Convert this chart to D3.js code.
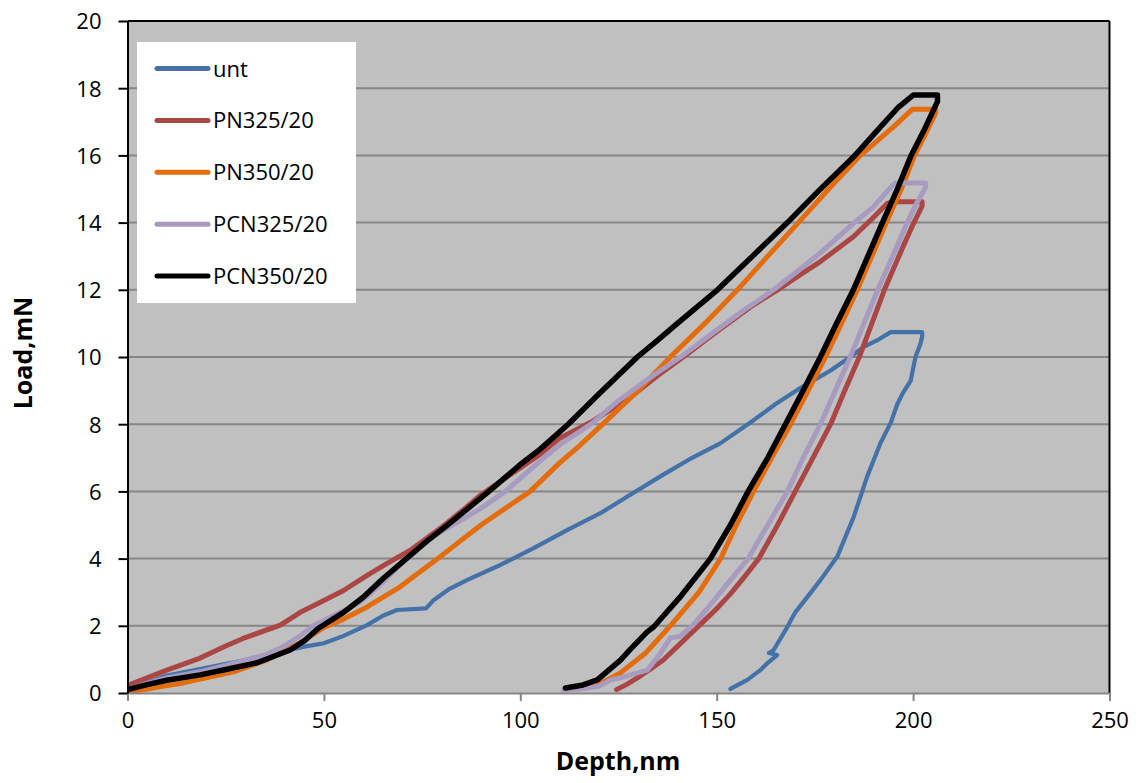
<!DOCTYPE html>
<html>
<head>
<meta charset="utf-8">
<script src="https://cdn.jsdelivr.net/npm/d3@7"></script>
<style>
  html, body { margin: 0; padding: 0; background: #ffffff; }
  svg { display: block; }
  text { font-family: "Open Sans", "Noto Sans", sans-serif; fill: #000; }
</style>
</head>
<body>
<svg id="chart" width="1139" height="783"></svg>
<script>
// ---- data: [depth (nm), load (mN)] — loading, hold, unloading ----
const seriesNames = ["unt", "PN325/20", "PN350/20", "PCN325/20", "PCN350/20"];
const seriesColors = ["#4472A8", "#AA4643", "#E46C0A", "#A89BC0", "#000000"];

const unt = [
  [0,0.1],[5,0.3],[10,0.52],[20,0.75],[30,0.98],[40,1.25],[45,1.38],[50,1.48],[55,1.7],[61,2.02],
  [65,2.3],[68.6,2.47],[76,2.52],[78,2.77],[82,3.1],[86.4,3.36],[94.9,3.81],[103.4,4.31],[111.9,4.85],
  [120.4,5.35],[128,5.9],[136.4,6.5],[143,6.95],[150.9,7.43],[159.4,8.12],[165,8.6],[170.5,9.02],
  [179,9.6],[184,10.0],[187.4,10.3],[190.9,10.5],[194.3,10.74],[202.3,10.74],
  [202.3,10.6],[201.9,10.4],[200.6,10.0],[199.4,9.3],[197.5,8.95],[196,8.6],[194.3,8.04],[191.7,7.44],
  [188.3,6.44],[184.9,5.25],[180.7,4.06],[176.4,3.36],[173.1,2.86],[170,2.4],[168,1.97],[164.5,1.28],
  [163.3,1.19],[165.4,1.13],[163,0.9],[161.1,0.68],[157.8,0.39],[153.5,0.12]
];
const pn325 = [
  [0,0.22],[5,0.45],[10,0.68],[18.5,1.04],[25,1.4],[30,1.65],[38.9,2.02],[44,2.4],[50,2.75],[55,3.05],
  [61,3.5],[66,3.85],[72,4.25],[79.6,4.9],[86,5.5],[90,5.9],[95,6.3],[100,6.7],[105,7.1],[110,7.58],
  [117.8,8.05],[128,8.8],[135,9.45],[141.5,10.0],[150,10.75],[158.6,11.49],[165.5,12.0],[171.3,12.45],
  [176.4,12.84],[184.8,13.58],[189,14.05],[193.4,14.57],[195,14.62],[202.3,14.62],
  [202.3,14.5],[200,13.95],[197.5,13.3],[192.7,12.0],[189.5,11.0],[186.3,10.0],[182.6,9.0],[179,8.0],
  [174.5,7.0],[170,6.0],[165.5,5.0],[160.7,4.0],[157,3.45],[153.5,2.95],[149.5,2.45],[145.1,1.96],
  [141,1.5],[136.4,0.98],[133,0.7],[129.8,0.45],[127,0.25],[124.5,0.1]
];
const pn350 = [
  [0,0.02],[5,0.12],[10,0.22],[14.2,0.3],[20,0.45],[27,0.63],[35.4,0.98],[38.9,1.19],[44,1.5],
  [50,1.95],[55,2.2],[61,2.56],[69.4,3.16],[79,4.0],[85,4.55],[90,5.0],[95,5.4],[102.5,6.0],
  [110,6.85],[115,7.35],[121,8.0],[130,9.0],[138.2,10.0],[147,11.0],[155.3,12.0],[163,13.0],
  [170.8,14.0],[178.5,15.0],[186.6,16.0],[195,16.85],[199.8,17.37],[205.7,17.37],
  [205.7,17.25],[203,16.6],[200.4,16.0],[197,15.0],[193.2,14.0],[189.5,13.0],[185.8,12.0],[181.8,11.0],
  [177.7,10.0],[173.3,9.0],[168.8,8.0],[164,7.0],[159.4,6.0],[155,5.0],[151,4.0],[145.5,3.0],
  [138.2,2.0],[132,1.2],[125.5,0.6],[121,0.32],[118,0.18]
];
const pcn325 = [
  [0,0.1],[5,0.28],[10,0.45],[18.5,0.63],[25,0.82],[30,0.98],[35.4,1.15],[40,1.4],[44,1.7],[47.3,2.0],
  [52.4,2.3],[59.2,2.7],[65,3.3],[71,4.0],[77,4.6],[85,5.15],[90,5.5],[96.2,6.0],[105,6.9],[110.2,7.4],
  [118,8.0],[125,8.7],[132,9.3],[140.8,10.0],[150,10.8],[157,11.4],[164.5,12.0],[170,12.5],
  [176.4,13.1],[184.8,13.98],[189.9,14.47],[194.7,15.1],[195.5,15.18],[203.2,15.18],
  [203.2,15.05],[201,14.6],[198.5,14.0],[194.8,13.0],[191,12.0],[187.5,11.0],[184,10.0],[180.2,9.0],
  [176.4,8.0],[172,7.0],[168,6.0],[163,5.0],[158,4.0],[154.5,3.5],[151,3.0],[147.5,2.5],[143.8,2.0],
  [140.5,1.68],[138.2,1.64],[135.5,1.15],[132.3,0.68],[125.5,0.45],[123,0.39],[120,0.2],[115,0.12],[111,0.09]
];
const pcn350 = [
  [0,0.1],[5,0.25],[10,0.38],[18.5,0.54],[25,0.7],[33,0.9],[41.4,1.28],[45,1.55],[48.5,1.92],[55,2.4],
  [60,2.85],[65,3.4],[71,4.0],[76,4.5],[82,5.05],[92,6.0],[100,6.8],[105,7.25],[112.2,8.0],[120,8.9],
  [129.8,10.0],[135,10.5],[140,11.0],[150.2,12.0],[160,13.1],[168,14.0],[176,14.95],[184.8,15.95],
  [191.7,16.85],[196.3,17.44],[200.1,17.8],[206.2,17.8],
  [206.2,17.6],[203,16.8],[199.5,16.0],[196,15.0],[192.2,14.0],[188.5,13.0],[184.8,12.0],[180.5,11.0],
  [176.4,10.0],[172,9.0],[167.5,8.0],[163,7.0],[158,6.0],[153.5,5.0],[148.4,4.0],[141,2.9],[134,1.97],
  [132.3,1.82],[128,1.3],[125.5,0.98],[119.6,0.39],[116,0.24],[111.5,0.15]
];
const seriesData = [unt, pn325, pn350, pcn325, pcn350];

const xTicks = [0, 50, 100, 150, 200, 250];
const yTicks = [0, 2, 4, 6, 8, 10, 12, 14, 16, 18, 20];

// ---- layout ----
const plot = { left: 127.5, right: 1109.5, top: 21, bottom: 693 };
const svg = d3.select("#chart");

const x = d3.scaleLinear().domain([0, 250]).range([plot.left, plot.right]);
const y = d3.scaleLinear().domain([0, 20]).range([plot.bottom, plot.top]);

// plot background
svg.append("rect")
  .attr("x", plot.left).attr("y", plot.top)
  .attr("width", plot.right - plot.left).attr("height", plot.bottom - plot.top)
  .attr("fill", "#C0C0C0");

// gridlines
svg.append("g")
  .selectAll("line")
  .data(yTicks.filter(t => t > 0 && t < 20))
  .join("line")
  .attr("x1", plot.left).attr("x2", plot.right)
  .attr("y1", d => y(d)).attr("y2", d => y(d))
  .attr("stroke", "#868686").attr("stroke-width", 2);

// clip
svg.append("defs").append("clipPath").attr("id", "clip")
  .append("rect")
  .attr("x", plot.left).attr("y", plot.top - 4)
  .attr("width", plot.right - plot.left).attr("height", plot.bottom - plot.top + 4);

const line = d3.line().x(d => x(d[0])).y(d => y(d[1]));
const widths = [4.2, 5, 5, 5, 5.5];

svg.append("g").attr("clip-path", "url(#clip)")
  .selectAll("path")
  .data(seriesData)
  .join("path")
  .attr("d", d => line(d))
  .attr("fill", "none")
  .attr("stroke", (d, i) => seriesColors[i])
  .attr("stroke-width", (d, i) => widths[i])
  .attr("stroke-linejoin", "round")
  .attr("stroke-linecap", "round");

// borders: top, right black
svg.append("line").attr("x1", plot.left).attr("x2", plot.right)
  .attr("y1", plot.top).attr("y2", plot.top).attr("stroke", "#000").attr("stroke-width", 2);
svg.append("line").attr("x1", plot.right).attr("x2", plot.right)
  .attr("y1", plot.top).attr("y2", plot.bottom).attr("stroke", "#000").attr("stroke-width", 2);

// x axis (gray)
const xAxis = d3.axisBottom(x).tickValues(xTicks).tickSize(8).tickSizeOuter(0).tickFormat(d3.format("d"));
const gx = svg.append("g").attr("transform", `translate(0,${plot.bottom})`).call(xAxis);
gx.select(".domain").attr("stroke", "#868686").attr("stroke-width", 2);
gx.selectAll(".tick line").attr("stroke", "#868686").attr("stroke-width", 2);
gx.selectAll(".tick text")
  .attr("y", 35).attr("dy", 0)
  .style("font-family", '"Open Sans", sans-serif')
  .style("font-size", "22px").attr("fill", "#000");

// y axis (black)
const yAxis = d3.axisLeft(y).tickValues(yTicks).tickSize(9).tickSizeOuter(0).tickFormat(d3.format("d"));
const gy = svg.append("g").attr("transform", `translate(${plot.left},0)`).call(yAxis);
gy.select(".domain").attr("stroke", "#000").attr("stroke-width", 2);
gy.selectAll(".tick line").attr("stroke", "#000").attr("stroke-width", 2);
gy.selectAll(".tick text")
  .attr("x", -26).attr("dy", "0.36em")
  .style("font-family", '"Open Sans", sans-serif')
  .style("font-size", "22px").attr("fill", "#000");

// axis titles
svg.append("text")
  .attr("x", 618).attr("y", 770)
  .attr("text-anchor", "middle")
  .style("font-size", "25px").style("font-weight", "bold")
  .text("Depth,nm");
svg.append("text")
  .attr("transform", "translate(32,353) rotate(-90)")
  .attr("text-anchor", "middle")
  .style("font-size", "25px").style("font-weight", "bold")
  .text("Load,mN");

// legend
const legend = svg.append("g");
legend.append("rect")
  .attr("x", 137).attr("y", 42).attr("width", 219).attr("height", 261)
  .attr("fill", "#ffffff");
const items = legend.selectAll("g.item")
  .data(seriesNames)
  .join("g").attr("class", "item")
  .attr("transform", (d, i) => `translate(0,${68.5 + i * 51.9})`);
items.append("line")
  .attr("x1", 157).attr("x2", 208).attr("y1", 0).attr("y2", 0)
  .attr("stroke", (d, i) => seriesColors[i])
  .attr("stroke-width", 5).attr("stroke-linecap", "round");
items.append("text")
  .attr("x", 213).attr("y", 8)
  .style("font-size", "22px")
  .text(d => d);
</script>
</body>
</html>
